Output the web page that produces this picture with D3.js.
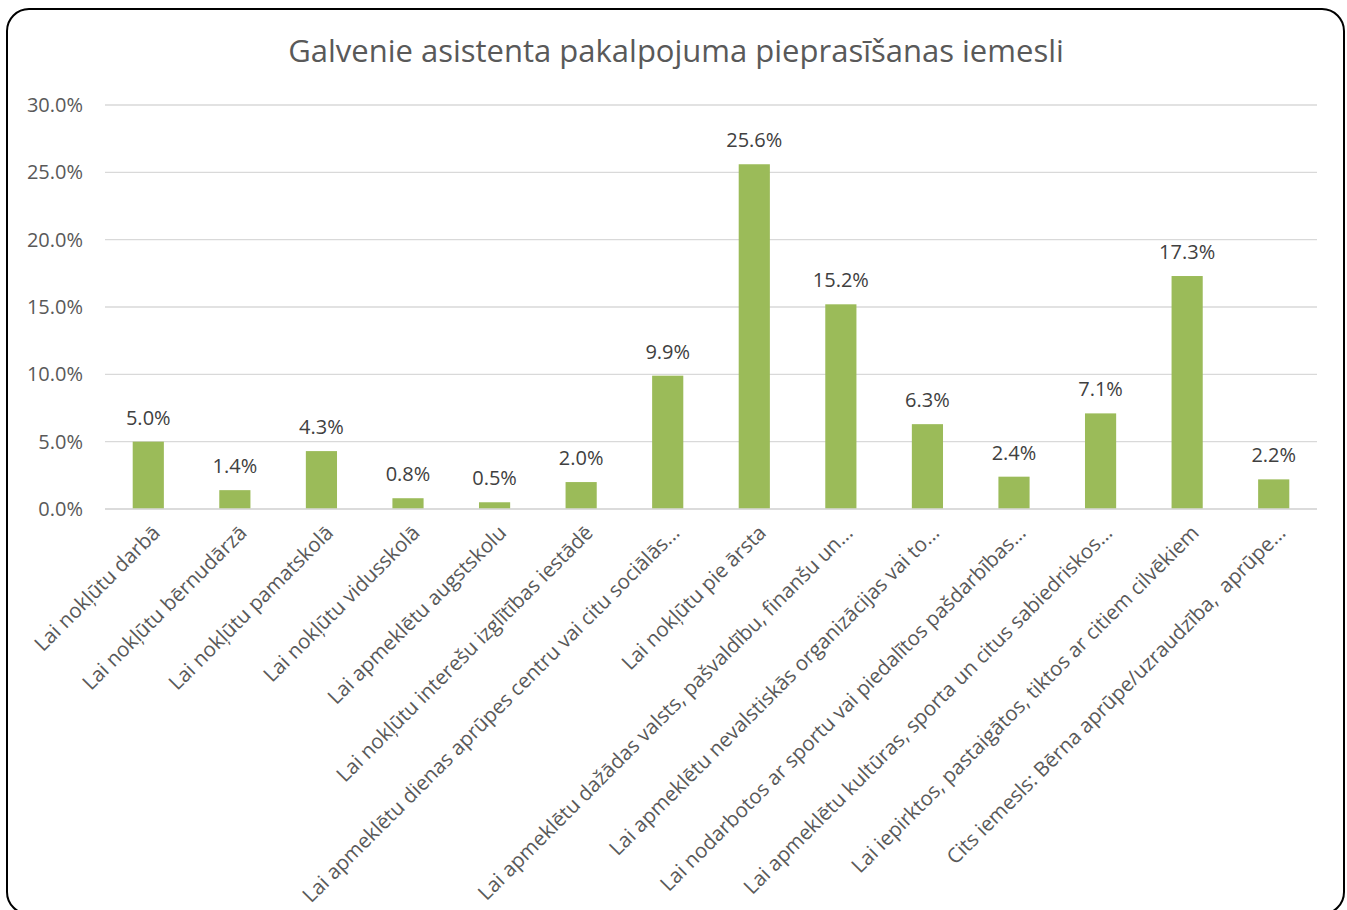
<!DOCTYPE html>
<html>
<head>
<meta charset="utf-8">
<script src="https://cdnjs.cloudflare.com/ajax/libs/d3/7.8.5/d3.min.js"></script>
<style>
body { margin: 0; background: #fff; }
text { font-family: "Open Sans", "Noto Sans", sans-serif; }
</style>
</head>
<body>
<div id="chart"></div>
<script>
var categories = [
  "Lai nokļūtu darbā",
  "Lai nokļūtu bērnudārzā",
  "Lai nokļūtu pamatskolā",
  "Lai nokļūtu vidusskolā",
  "Lai apmeklētu augstskolu",
  "Lai nokļūtu interešu izglītības iestādē",
  "Lai apmeklētu dienas aprūpes centru vai citu sociālās...",
  "Lai nokļūtu pie ārsta",
  "Lai apmeklētu dažādas valsts, pašvaldību, finanšu un...",
  "Lai apmeklētu nevalstiskās organizācijas vai to...",
  "Lai nodarbotos ar sportu vai piedalītos pašdarbības...",
  "Lai apmeklētu kultūras, sporta un citus sabiedriskos...",
  "Lai iepirktos, pastaigātos, tiktos ar citiem cilvēkiem",
  "Cits iemesls: Bērna aprūpe/uzraudzība,  aprūpe..."
];
var values = [5.0, 1.4, 4.3, 0.8, 0.5, 2.0, 9.9, 25.6, 15.2, 6.3, 2.4, 7.1, 17.3, 2.2];
var yTicks = [0, 5, 10, 15, 20, 25, 30];
var title = "Galvenie asistenta pakalpojuma pieprasīšanas iemesli";

var W = 1347, H = 910;
var margin = {top: 105, left: 105, right: 30, bottom: 401};

var svg = d3.select("#chart").append("svg")
  .attr("width", W).attr("height", H);

// frame
svg.append("rect")
  .attr("x", 7).attr("y", 9)
  .attr("width", 1337).attr("height", 905)
  .attr("rx", 22).attr("ry", 22)
  .attr("fill", "#fff").attr("stroke", "#000").attr("stroke-width", 2);

svg.append("text")
  .attr("x", 676).attr("y", 62)
  .attr("text-anchor", "middle")
  .attr("font-size", 31)
  .attr("fill", "#595959")
  .text(title);

var x = d3.scaleBand()
  .domain(categories)
  .range([margin.left, W - margin.right])
  .paddingInner(0.64).paddingOuter(0.32);

var y = d3.scaleLinear()
  .domain([0, 30])
  .range([509, 105]);

// gridlines
svg.append("g")
  .selectAll("line")
  .data(yTicks)
  .enter().append("line")
    .attr("x1", margin.left).attr("x2", W - margin.right)
    .attr("y1", d => y(d)).attr("y2", d => y(d))
    .attr("stroke", "#d9d9d9").attr("stroke-width", 1.3);

// y axis labels
var yAxis = svg.append("g")
  .attr("transform", "translate(" + (margin.left - 19) + ",0)")
  .call(d3.axisLeft(y).tickValues(yTicks).tickSize(0).tickFormat(d => d.toFixed(1) + "%"));
yAxis.select(".domain").remove();
yAxis.selectAll("text")
  .attr("font-size", 20)
  .attr("font-family", "Open Sans")
  .attr("fill", "#595959");

// bars
svg.selectAll("rect.bar")
  .data(values)
  .enter().append("rect")
    .attr("class", "bar")
    .attr("x", (d, i) => x(categories[i]))
    .attr("width", x.bandwidth())
    .attr("y", d => y(d))
    .attr("height", d => y(0) - y(d))
    .attr("fill", "#9bbb59");

// data labels
svg.selectAll("text.val")
  .data(values)
  .enter().append("text")
    .attr("class", "val")
    .attr("x", (d, i) => x(categories[i]) + x.bandwidth() / 2)
    .attr("y", d => y(d) - 17)
    .attr("text-anchor", "middle")
    .attr("font-size", 20)
    .attr("fill", "#404040")
    .text(d => d.toFixed(1) + "%");

// x axis line
svg.append("line")
  .attr("x1", margin.left).attr("x2", W - margin.right)
  .attr("y1", y(0)).attr("y2", y(0))
  .attr("stroke", "#d9d9d9").attr("stroke-width", 1.5);

// x labels
svg.selectAll("text.cat")
  .data(categories)
  .enter().append("text")
    .attr("class", "cat")
    .attr("transform", d => "translate(" + (x(d) + x.bandwidth() / 2 + 8) + ",529) rotate(-45)")
    .attr("text-anchor", "end")
    .attr("dy", "0.35em")
    .attr("font-size", 20.5)
    .attr("fill", "#595959")
    .style("white-space", "pre")
    .text(d => d);
</script>
</body>
</html>
